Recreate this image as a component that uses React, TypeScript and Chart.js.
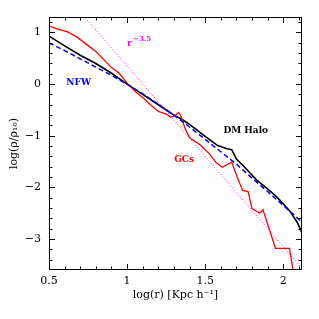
import React, { useEffect, useRef } from "react";
import { Chart, registerables } from "chart.js";

Chart.register(...registerables);

// ---- data (log r [Kpc/h], log(rho/rho10)) ----
const dmR = [0.5, 0.6, 0.7, 0.8, 0.9, 1.0, 1.1, 1.2, 1.3, 1.35, 1.4, 1.5, 1.58, 1.64, 1.67, 1.7, 1.75, 1.83, 1.9, 1.96, 2.04, 2.09, 2.12];
const dmLogRho = [0.93, 0.74, 0.56, 0.4, 0.21, 0.0, -0.2, -0.4, -0.6, -0.68, -0.78, -1.01, -1.19, -1.25, -1.27, -1.45, -1.6, -1.86, -2.03, -2.19, -2.45, -2.68, -2.88];

const gcR = [0.5, 0.55, 0.62, 0.68, 0.74, 0.8, 0.85, 0.9, 0.95, 1.0, 1.05, 1.1, 1.15, 1.2, 1.25, 1.28, 1.31, 1.33, 1.345, 1.37, 1.4, 1.47, 1.53, 1.57, 1.61, 1.67, 1.705, 1.74, 1.775, 1.8, 1.85, 1.87, 1.95, 2.04, 2.07];
const gcLogRho = [1.13, 1.07, 1.01, 0.91, 0.77, 0.63, 0.48, 0.32, 0.21, 0.02, -0.14, -0.26, -0.4, -0.53, -0.58, -0.64, -0.6, -0.55, -0.62, -0.85, -1.04, -1.18, -1.36, -1.52, -1.61, -1.51, -1.8, -2.06, -2.08, -2.41, -2.5, -2.43, -3.18, -3.18, -3.75];

const nfwR = [0.5, 0.6, 0.7, 0.8, 0.9, 1.0, 1.1, 1.2, 1.3, 1.4, 1.5, 1.6, 1.7, 1.8, 1.9, 2.0, 2.1, 2.12];
const nfwLogRho = [0.8, 0.65, 0.49, 0.33, 0.17, 0.0, -0.19, -0.39, -0.6, -0.83, -1.07, -1.31, -1.55, -1.82, -2.08, -2.35, -2.62, -2.68];

const powR = [0.72, 2.13];
const powLogRho = [1.33, -3.6];

const xTickLabels = [0.5, 1, 1.5, 2];
const yTickLabels = [-3, -2, -1, 0, 1];
const xMinorStep = 0.1;
const yMinorStep = 0.2;

const X_MIN = 0.5, X_MAX = 2.12, Y_MIN = -3.6, Y_MAX = 1.3;

const FONT = "'DejaVu Serif', 'Liberation Serif', serif";

const toXY = (xs: number[], ys: number[]) => xs.map((x, i) => ({ x, y: ys[i] }));

const framePlugin = {
  id: "frameTicks",
  afterDraw(chart: any) {
    const { ctx, chartArea: a, scales } = chart;
    const xs = scales.x, ys = scales.y;
    ctx.save();
    ctx.strokeStyle = "#000";
    ctx.lineWidth = 1;
    ctx.strokeRect(a.left + 0.5, a.top + 0.5, a.right - a.left - 1, a.bottom - a.top - 1);
    const big = 6, small = 3.5;
    ctx.beginPath();
    for (let i = 0; ; i++) {
      const v = X_MIN + i * xMinorStep;
      if (v > X_MAX + 1e-6) break;
      const major = xTickLabels.some((t) => Math.abs(t - v) < 1e-6);
      const L = major ? big : small;
      const p = Math.round(xs.getPixelForValue(v)) + 0.5;
      ctx.moveTo(p, a.bottom); ctx.lineTo(p, a.bottom - L);
      ctx.moveTo(p, a.top); ctx.lineTo(p, a.top + L);
    }
    for (let i = 0; ; i++) {
      const v = -3.4 + i * yMinorStep;
      if (v > Y_MAX + 1e-6) break;
      const major = yTickLabels.some((t) => Math.abs(t - v) < 1e-6);
      const L = major ? big : small;
      const p = Math.round(ys.getPixelForValue(v)) + 0.5;
      ctx.moveTo(a.left, p); ctx.lineTo(a.left + L, p);
      ctx.moveTo(a.right, p); ctx.lineTo(a.right - L, p);
    }
    ctx.stroke();

    // in-plot labels
    ctx.textAlign = "center";
    ctx.textBaseline = "middle";
    ctx.font = `bold 9px ${FONT}`;
    ctx.fillStyle = "#0000ee";
    ctx.fillText("NFW", xs.getPixelForValue(0.69), ys.getPixelForValue(0.02));
    ctx.fillStyle = "#000";
    ctx.fillText("DM Halo", xs.getPixelForValue(1.76), ys.getPixelForValue(-0.91));
    ctx.fillStyle = "#ff0000";
    ctx.fillText("GCs", xs.getPixelForValue(1.365), ys.getPixelForValue(-1.46));
    ctx.fillStyle = "#ff00ff";
    const rx = xs.getPixelForValue(1.0), ry = ys.getPixelForValue(0.79);
    ctx.textAlign = "left";
    ctx.fillText("r", rx, ry);
    ctx.font = `bold 7px ${FONT}`;
    ctx.fillText("−3.5", rx + 6, ry - 4);
    ctx.restore();
  },
};

export default function App() {
  const ref = useRef<HTMLCanvasElement>(null);
  useEffect(() => {
    const chart = new Chart(ref.current!, {
      type: "line",
      data: {
        datasets: [
          { data: toXY(powR, powLogRho), borderColor: "#ff00ff", borderWidth: 1, borderDash: [1, 2], pointRadius: 0, fill: false },
          { data: toXY(nfwR, nfwLogRho), borderColor: "#0000ee", borderWidth: 1.5, borderDash: [5, 3], pointRadius: 0, fill: false },
          { data: toXY(gcR, gcLogRho), borderColor: "#ff0000", borderWidth: 1.3, pointRadius: 0, fill: false },
          { data: toXY(dmR, dmLogRho), borderColor: "#000000", borderWidth: 1.6, pointRadius: 0, fill: false },
        ],
      },
      options: {
        animation: false,
        responsive: false,
        layout: { padding: { left: 0, top: 17, right: 17, bottom: 0 } },
        plugins: { legend: { display: false }, tooltip: { enabled: false } },
        scales: {
          x: {
            type: "linear",
            min: X_MIN,
            max: X_MAX,
            grid: { display: false, drawTicks: false },
            border: { display: false },
            afterBuildTicks: (s: any) => { s.ticks = xTickLabels.map((v) => ({ value: v })); },
            afterFit: (s: any) => { s.height = 49; },
            ticks: { color: "#000", padding: 5, maxRotation: 0, font: { family: FONT, size: 11 }, callback: (v: any) => String(v) },
            title: { display: true, text: "log(r) [Kpc h⁻¹]", color: "#000", font: { family: FONT, size: 11 }, padding: { top: 0, bottom: 17 } },
          },
          y: {
            type: "linear",
            min: Y_MIN,
            max: Y_MAX,
            grid: { display: false, drawTicks: false },
            border: { display: false },
            afterBuildTicks: (s: any) => { s.ticks = yTickLabels.map((v) => ({ value: v })); },
            afterFit: (s: any) => { s.width = 49; },
            ticks: { color: "#000", padding: 8, font: { family: FONT, size: 11 }, callback: (v: any) => (v < 0 ? "−" + Math.abs(v) : String(v)) },
            title: { display: true, text: "log(ρ/ρ₁₀)", color: "#000", font: { family: FONT, size: 11 }, padding: { top: 8, bottom: 0 } },
          },
        },
      },
      plugins: [framePlugin],
    } as any);
    return () => chart.destroy();
  }, []);
  return (
    <div style={{ position: "fixed", left: 0, top: 0, width: 319, height: 319, background: "#fff" }}>
      <canvas ref={ref} width={319} height={319} style={{ width: 319, height: 319 }} />
    </div>
  );
}
